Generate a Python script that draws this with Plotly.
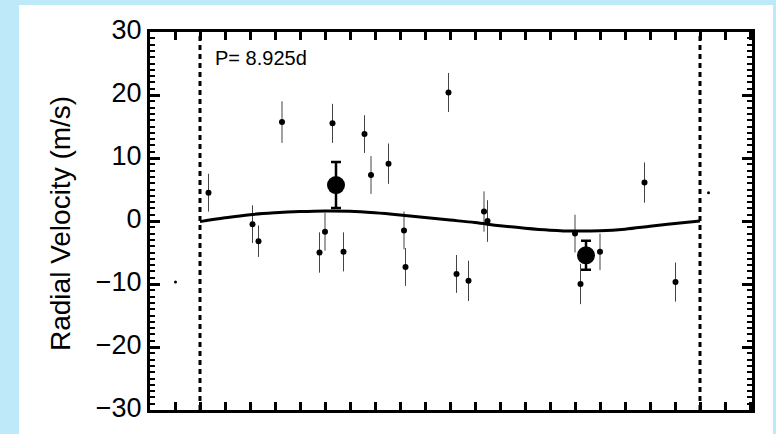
import plotly.graph_objects as go

# Phase-folded radial velocity data
phase = [0.017, 0.105, 0.117, 0.164, 0.239, 0.250, 0.265, 0.287, 0.329, 0.342,
         0.377, 0.408, 0.411, 0.497, 0.513, 0.537, 0.568, 0.575, 0.750, 0.761,
         0.800, 0.889, 0.951]
rv = [4.5, -0.5, -3.2, 15.7, -5.0, -1.7, 15.5, -4.9, 13.8, 7.3,
      9.1, -1.5, -7.3, 20.4, -8.4, -9.5, 1.5, 0.0, -2.0, -10.0,
      -4.9, 6.1, -9.7]
rv_err = [3.0, 3.0, 2.5, 3.3, 3.2, 3.0, 3.1, 3.1, 3.0, 3.0,
          3.2, 3.0, 3.0, 3.1, 3.0, 3.2, 3.2, 3.3, 3.0, 3.2,
          2.9, 3.2, 3.1]

# Binned points
bin_phase = [0.272, 0.772]
bin_rv = [5.7, -5.45]
bin_err = [3.65, 2.3]

# Model curve
model_phase = [0.0, 0.05, 0.1, 0.15, 0.2, 0.25, 0.3, 0.35, 0.4, 0.45, 0.5,
               0.55, 0.6, 0.65, 0.7, 0.75, 0.8, 0.85, 0.9, 0.95, 1.0]
model_rv = [-0.1, 0.5, 1.0, 1.3, 1.5, 1.6, 1.55, 1.3, 0.95, 0.55, 0.15,
            -0.25, -0.75, -1.15, -1.45, -1.6, -1.55, -1.3, -0.85, -0.4, 0.0]

period_label = "P= 8.925d"

x_range = [-0.1, 1.104]
y_range = [-30, 30]

# wrapped copies shown outside [0,1]
wrap_x, wrap_y = [], []
for p, v in zip(phase, rv):
    for q in (p - 1, p + 1):
        if x_range[0] <= q <= x_range[1]:
            wrap_x.append(q)
            wrap_y.append(v)

fig = go.Figure()

# model curve lives on the helper axis (same range) that carries 1 m/s ticks
fig.add_trace(go.Scatter(
    x=model_phase, y=model_rv, mode="lines", yaxis="y2",
    line=dict(color="black", width=3, shape="spline"),
    hoverinfo="skip"))

fig.add_trace(go.Scatter(
    x=phase, y=rv, mode="markers",
    marker=dict(color="black", size=6),
    error_y=dict(type="data", array=rv_err, color="#444444", thickness=1, width=0)))

fig.add_trace(go.Scatter(
    x=wrap_x, y=wrap_y, mode="markers",
    marker=dict(color="black", size=3)))

fig.add_trace(go.Scatter(
    x=bin_phase, y=bin_rv, mode="markers",
    marker=dict(color="black", size=18),
    error_y=dict(type="data", array=bin_err, color="black", thickness=2.5, width=5)))

# white panel
fig.add_shape(type="rect", xref="paper", yref="paper",
              x0=-0.2176, x1=1.0349, y0=-0.1, y1=1.0714,
              fillcolor="white", line=dict(width=0), layer="below")

for xv in (0, 1):
    fig.add_shape(type="line", xref="x", yref="paper", x0=xv, x1=xv, y0=0, y1=1,
                  line=dict(color="black", width=3, dash="5px,4px"))

fig.add_annotation(text=period_label, xref="paper", yref="paper",
                   x=(213 - 150) / 602, y=(410 - 58) / 378,
                   xanchor="left", yanchor="middle", showarrow=False,
                   font=dict(size=20, color="black"))

fig.add_annotation(text="Radial Velocity (m/s)", xref="paper", yref="paper",
                   x=(60 - 150) / 602, y=(410 - 224) / 378, textangle=-90,
                   xanchor="center", yanchor="middle", showarrow=False,
                   font=dict(size=28, color="black"))

fig.update_layout(
    width=776, height=434,
    margin=dict(l=150, r=24, t=32, b=24),
    paper_bgcolor="#bee9f8",
    plot_bgcolor="white",
    showlegend=False,
    font=dict(family="Liberation Sans, Arial, sans-serif", color="black"),
    xaxis=dict(range=x_range, showgrid=False, zeroline=False,
               showline=True, linecolor="black", linewidth=3, mirror="allticks",
               ticks="inside", ticklen=8, tickwidth=2.5, tickcolor="black",
               tickmode="linear", tick0=0, dtick=0.2, showticklabels=False,
               minor=dict(ticks="inside", ticklen=4, tickwidth=2.5, dtick=0.05,
                          tick0=0, tickcolor="black", showgrid=False)),
    yaxis=dict(range=y_range, showgrid=False, zeroline=False,
               showline=True, linecolor="black", linewidth=3, mirror="allticks",
               ticks="inside", ticklen=10, tickwidth=2.5, tickcolor="black",
               tickmode="linear", tick0=0, dtick=10,
               tickfont=dict(size=27), ticklabelshift=-2,
               minor=dict(ticks="inside", ticklen=5, tickwidth=2,
                          tickmode="linear", tick0=0, dtick=2,
                          tickcolor="black", showgrid=False)),
    yaxis2=dict(range=y_range, overlaying="y", side="left", anchor="x",
                showgrid=False, zeroline=False, showline=True,
                linecolor="black", linewidth=3, mirror="allticks",
                ticks="inside", ticklen=5, tickwidth=1.5, tickcolor="black",
                tickmode="linear", tick0=0, dtick=1, showticklabels=False),
)

fig.write_html(
    "out.html",
    config={"displayModeBar": False},
    post_script="document.body.style.margin='0';document.body.style.background='#bee9f8';",
)
